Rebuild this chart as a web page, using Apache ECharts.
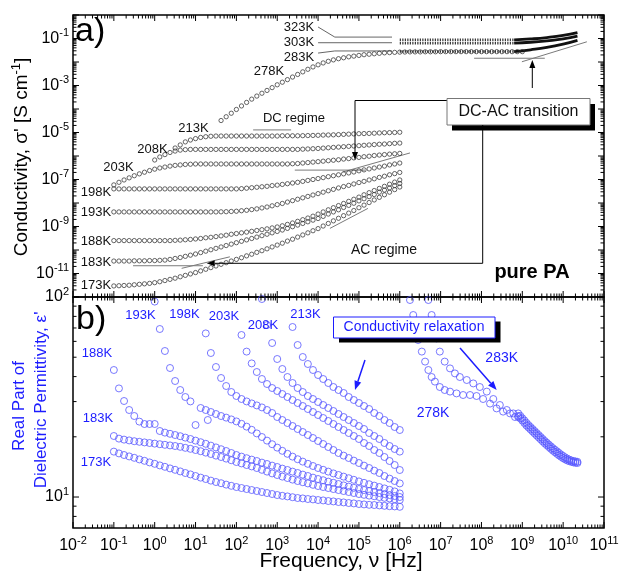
<!DOCTYPE html>
<html>
<head>
<meta charset="utf-8">
<title>pure PA – conductivity and permittivity spectra</title>
<script src="https://cdn.jsdelivr.net/npm/echarts@6.0.0/dist/echarts.min.js"></script>
<style>
  html, body { margin: 0; padding: 0; background: #fff; }
  #chart { width: 619px; height: 576px; }
</style>
</head>
<body>
<div id="chart"></div>
<script>
// All spectra are kept as log10 values: log10(nu / Hz), log10(sigma' / S cm^-1), log10(eps').

// Broadband dielectric sweep, 0.1 Hz ... 1 MHz
const logFreq = [-1, -0.875, -0.75, -0.625, -0.5, -0.375, -0.25, -0.125, 0, 0.125, 0.25, 0.375, 0.5, 0.625, 0.75, 0.875,
  1, 1.125, 1.25, 1.375, 1.5, 1.625, 1.75, 1.875, 2, 2.125, 2.25, 2.375, 2.5, 2.625, 2.75, 2.875,
  3, 3.125, 3.25, 3.375, 3.5, 3.625, 3.75, 3.875, 4, 4.125, 4.25, 4.375, 4.5, 4.625, 4.75, 4.875,
  5, 5.125, 5.25, 5.375, 5.5, 5.625, 5.75, 5.875, 6];

// ---- (a) conductivity, low temperatures ----
const sig213 = [-5.66, -5.53, -5.40, -5.32, -5.26, -5.21, -5.18, -5.16, -5.15,
  -5.15, -5.15, -5.15, -5.15, -5.15, -5.15, -5.15, -5.15, -5.15, -5.15, -5.15, -5.15, -5.14, -5.14, -5.14, -5.14,
  -5.135, -5.13, -5.125, -5.12, -5.11, -5.105, -5.10, -5.09, -5.08, -5.07, -5.06, -5.05, -5.045, -5.04, -5.03, -5.02, -5.01, -5.005, -5.0, -4.99];
const sig208 = [-6.17, -6.04, -5.94, -5.85, -5.79, -5.75, -5.73, -5.72,
  -5.72, -5.72, -5.72, -5.72, -5.72, -5.72, -5.72, -5.72, -5.72, -5.72, -5.72, -5.72, -5.72, -5.72, -5.72, -5.72, -5.72, -5.72, -5.72, -5.72, -5.72,
  -5.71, -5.70, -5.69, -5.68, -5.665, -5.65, -5.635, -5.62, -5.605, -5.59, -5.575, -5.56, -5.545, -5.53, -5.515, -5.50, -5.49, -5.475, -5.46, -5.45];
const sig203 = [-7.23, -7.12, -7.02, -6.93, -6.84, -6.76, -6.69, -6.62, -6.56, -6.51, -6.47, -6.43, -6.40, -6.38, -6.36, -6.35,
  -6.34, -6.34, -6.34, -6.34, -6.34, -6.34, -6.34, -6.34, -6.34, -6.34, -6.34, -6.34, -6.34, -6.34, -6.34, -6.34, -6.34, -6.34, -6.34,
  -6.33, -6.32, -6.30, -6.28, -6.26, -6.24, -6.22, -6.20, -6.18, -6.16, -6.13, -6.11, -6.08, -6.06, -6.03, -6.01, -5.98, -5.96, -5.94, -5.92, -5.905, -5.89];
const sig198 = [-7.40, -7.40, -7.40, -7.40, -7.40, -7.40, -7.40, -7.40, -7.40, -7.40, -7.40, -7.40, -7.40, -7.40, -7.40, -7.40,
  -7.40, -7.40, -7.40, -7.40, -7.40, -7.40, -7.40, -7.40, -7.40,
  -7.39, -7.37, -7.35, -7.33, -7.31, -7.29, -7.26, -7.24, -7.21, -7.18, -7.15, -7.12, -7.08, -7.04, -7.00, -6.96,
  -6.92, -6.88, -6.84, -6.80, -6.76, -6.72, -6.68, -6.63, -6.59, -6.55, -6.51, -6.47, -6.43, -6.38, -6.34, -6.30];
const sig193 = [-8.38, -8.38, -8.38, -8.38, -8.38, -8.38, -8.38, -8.38, -8.38, -8.38, -8.38, -8.38, -8.38, -8.38, -8.38, -8.38,
  -8.38, -8.38, -8.38, -8.38, -8.38,
  -8.375, -8.37, -8.36, -8.35, -8.33, -8.31, -8.28, -8.25, -8.21, -8.17, -8.12, -8.07, -8.02, -7.96, -7.90, -7.84,
  -7.78, -7.72, -7.66, -7.60, -7.54, -7.48, -7.42, -7.36, -7.30, -7.25, -7.19, -7.13, -7.08, -7.02, -6.97, -6.91, -6.86, -6.80, -6.75, -6.70];
const sig188 = [-9.60, -9.60, -9.60, -9.60, -9.60, -9.60, -9.60, -9.60, -9.60, -9.60, -9.60, -9.60,
  -9.59, -9.58, -9.565, -9.55, -9.53, -9.51, -9.48, -9.46, -9.43, -9.40, -9.37, -9.33, -9.30, -9.27, -9.24, -9.205,
  -9.17, -9.135, -9.10, -9.06, -9.02, -8.97, -8.91, -8.85, -8.78, -8.71, -8.64, -8.56, -8.47, -8.38, -8.29, -8.20,
  -8.11, -8.02, -7.93, -7.84, -7.75, -7.65, -7.56, -7.47, -7.38, -7.29, -7.20, -7.11, -7.02];
const sig183 = [-10.47, -10.47, -10.47, -10.47, -10.46, -10.46, -10.46, -10.45, -10.45, -10.44, -10.43, -10.40, -10.36, -10.32, -10.27, -10.22,
  -10.17, -10.11, -10.05, -9.99, -9.93, -9.87, -9.81, -9.75, -9.69, -9.63, -9.57, -9.51, -9.45, -9.39, -9.33, -9.27,
  -9.21, -9.15, -9.08, -9.01, -8.94, -8.87, -8.80, -8.73, -8.66, -8.57, -8.47, -8.38, -8.29, -8.19, -8.10, -8.01,
  -7.91, -7.82, -7.73, -7.64, -7.54, -7.45, -7.36, -7.26, -7.17];
const sig173 = [-11.53, -11.52, -11.51, -11.50, -11.48, -11.46, -11.44, -11.42, -11.39, -11.35, -11.30, -11.25, -11.20, -11.14, -11.08, -11.02,
  -10.96, -10.89, -10.82, -10.75, -10.68, -10.61, -10.54, -10.47, -10.40, -10.33, -10.25, -10.18, -10.10, -10.03, -9.95, -9.87,
  -9.79, -9.71, -9.62, -9.54, -9.45, -9.36, -9.27, -9.18, -9.09, -8.98, -8.87, -8.76, -8.65, -8.54, -8.43, -8.32,
  -8.20, -8.09, -7.98, -7.87, -7.76, -7.65, -7.54, -7.43, -7.32];

// ---- (a) conductivity, high temperatures ----
const logFreq278 = [1.625, 1.75, 1.875, 2, 2.125, 2.25, 2.375, 2.5, 2.625, 2.75, 2.875, 3, 3.125, 3.25, 3.375, 3.5,
  3.625, 3.75, 3.875, 4, 4.125, 4.25, 4.375, 4.5, 4.625, 4.75, 4.875, 5, 5.125, 5.25, 5.375, 5.5,
  5.625, 5.75, 5.875, 6, 6.125, 6.25, 6.375, 6.5, 6.625, 6.75, 6.875, 7, 7.125, 7.25, 7.375, 7.5,
  7.625, 7.75, 7.875, 8, 8.125, 8.25, 8.375, 8.5, 8.625, 8.75, 8.875, 9];
const sig278 = [-4.49, -4.33, -4.18, -4.02, -3.87, -3.72, -3.58, -3.45, -3.33, -3.21, -3.09, -2.97, -2.86, -2.75, -2.64, -2.53,
  -2.42, -2.31, -2.21, -2.12, -2.04, -1.97, -1.91, -1.86, -1.82, -1.78, -1.75, -1.72, -1.69, -1.67, -1.65, -1.63,
  -1.61, -1.60, -1.59, -1.58, -1.575, -1.57, -1.57, -1.57, -1.565, -1.565, -1.565, -1.56, -1.56, -1.56, -1.56, -1.56,
  -1.56, -1.56, -1.56, -1.56, -1.56, -1.56, -1.56, -1.56, -1.56, -1.56, -1.56, -1.56];
// coaxial line range (flat part) and microwave range
const logFreqCoax = [6, 8.8];
const sig323Coax = [-1.06, -1.06];
const sig303Coax = [-1.20, -1.20];
const sig283Coax = [-1.55, -1.55];
const logFreqMw = [8.8, 9.2, 9.6, 10.0, 10.35];
const sig323Mw = [-1.06, -1.02, -0.96, -0.87, -0.75];
const sig303Mw = [-1.20, -1.16, -1.10, -1.02, -0.90];
const sig283Mw = [-1.56, -1.48, -1.38, -1.24, -1.08];

// ---- (b) real part of permittivity ----
const eps213 = [1.85, 1.76, 1.70, 1.665, 1.635, 1.61, 1.59, 1.57, 1.55, 1.535, 1.52, 1.50, 1.485, 1.47, 1.455, 1.44, 1.42, 1.405, 1.385, 1.37, 1.35, 1.335];
const eps208 = [1.99, 1.86, 1.77, 1.69, 1.64, 1.60, 1.57, 1.545, 1.525, 1.505, 1.49, 1.475, 1.46, 1.445, 1.43, 1.415, 1.40, 1.385, 1.37, 1.355, 1.34, 1.32, 1.305, 1.29, 1.27, 1.255, 1.24, 1.227];
const eps203 = [1.81, 1.727, 1.668, 1.625, 1.59, 1.565, 1.545, 1.53, 1.515, 1.50, 1.485, 1.47, 1.455, 1.44, 1.425, 1.41,
  1.395, 1.38, 1.365, 1.35, 1.335, 1.32, 1.305, 1.29, 1.27, 1.255, 1.235, 1.22, 1.20, 1.18, 1.16, 1.135];
const eps198 = [1.818, 1.72, 1.65, 1.595, 1.555, 1.525, 1.505, 1.49, 1.478, 1.468, 1.458, 1.448, 1.435, 1.42, 1.40, 1.385,
  1.37, 1.355, 1.34, 1.325, 1.31, 1.295, 1.28, 1.265, 1.25, 1.235, 1.22, 1.207, 1.195, 1.182, 1.17, 1.157,
  1.145, 1.132, 1.12, 1.105, 1.092, 1.08, 1.068];
const eps193 = [1.977, 1.84, 1.73, 1.645, 1.58, 1.535, 1.50, 1.478, 1.36, 1.445, 1.435, 1.425, 1.415, 1.405, 1.397, 1.388,
  1.378, 1.366, 1.352, 1.336, 1.318, 1.30, 1.282, 1.264, 1.247, 1.231, 1.216, 1.202, 1.189, 1.177, 1.166, 1.155,
  1.145, 1.136, 1.127, 1.118, 1.11, 1.102, 1.094, 1.086, 1.078, 1.071, 1.064, 1.057, 1.05, 1.043, 1.036, 1.028, 1.018];
const eps188 = [1.635, 1.543, 1.48, 1.435, 1.405, 1.377, 1.365, 1.365, 1.365, 1.33, 1.322, 1.316, 1.31, 1.304, 1.297, 1.29,
  1.282, 1.274, 1.266, 1.257, 1.248, 1.239, 1.23, 1.22, 1.21, 1.202, 1.194, 1.187, 1.18, 1.172, 1.165, 1.157,
  1.15, 1.142, 1.135, 1.127, 1.12, 1.112, 1.105, 1.097, 1.09, 1.084, 1.077, 1.071, 1.065, 1.058, 1.052, 1.046,
  1.04, 1.035, 1.03, 1.025, 1.02, 1.015, 1.01, 1.005, 1.0];
const eps183 = [1.305, 1.292, 1.287, 1.283, 1.279, 1.276, 1.273, 1.27, 1.267, 1.264, 1.261, 1.258, 1.255, 1.251, 1.246, 1.241,
  1.235, 1.229, 1.222, 1.215, 1.207, 1.2, 1.192, 1.184, 1.175, 1.168, 1.16, 1.153, 1.145, 1.136, 1.127, 1.118,
  1.11, 1.102, 1.095, 1.087, 1.08, 1.074, 1.068, 1.061, 1.055, 1.05, 1.045, 1.04, 1.035, 1.03, 1.025, 1.02,
  1.015, 1.011, 1.007, 1.004, 1.0, 0.996, 0.993, 0.989, 0.985];
const eps173 = [1.227, 1.218, 1.21, 1.203, 1.196, 1.188, 1.181, 1.173, 1.166, 1.158, 1.151, 1.143, 1.136, 1.128, 1.12, 1.113,
  1.105, 1.097, 1.09, 1.082, 1.075, 1.069, 1.062, 1.056, 1.05, 1.045, 1.04, 1.035, 1.03, 1.025, 1.02, 1.015,
  1.01, 1.006, 1.003, 0.999, 0.995, 0.993, 0.99, 0.988, 0.985, 0.983, 0.98, 0.978, 0.975, 0.973, 0.97, 0.968,
  0.965, 0.963, 0.961, 0.96, 0.958, 0.956, 0.954, 0.953, 0.951];
const logFreq198Extra = [1.3];
const eps198Extra = [1.385];

const logFreq278b = [6.25, 6.33, 6.45, 6.54, 6.62, 6.70, 6.78, 6.86, 6.98, 7.1, 7.23, 7.39, 7.55, 7.72, 7.88, 8.04, 8.21, 8.37, 8.53, 8.70, 8.82];
const eps278 = [1.985, 1.91, 1.785, 1.727, 1.677, 1.635, 1.60, 1.577, 1.55, 1.535, 1.527, 1.518, 1.51, 1.51, 1.505, 1.49, 1.467, 1.443, 1.427, 1.418, 1.40];
const logFreq283b = [6.70, 6.78, 6.90, 6.98, 7.1, 7.23, 7.35, 7.47, 7.64, 7.80, 7.96, 8.13, 8.29, 8.45, 8.62, 8.78, 8.9];
const eps283 = [1.985, 1.91, 1.793, 1.727, 1.677, 1.643, 1.618, 1.60, 1.585, 1.568, 1.55, 1.527, 1.49, 1.46, 1.435, 1.418, 1.40];
const logFreqMwDense = [8.9, 8.95, 9.0, 9.05, 9.1, 9.15, 9.2, 9.25, 9.3, 9.35, 9.4, 9.45, 9.5, 9.55, 9.6,
  9.65, 9.7, 9.75, 9.8, 9.85, 9.9, 9.95, 10.0, 10.05, 10.1, 10.15, 10.2, 10.25, 10.3, 10.35];
const eps278Mw = [1.405, 1.393, 1.382, 1.370, 1.358, 1.348, 1.338, 1.328, 1.318, 1.308, 1.298, 1.288, 1.278, 1.268, 1.259,
  1.250, 1.241, 1.232, 1.224, 1.216, 1.208, 1.201, 1.194, 1.188, 1.183, 1.179, 1.176, 1.173, 1.171, 1.170];
const eps283Mw = [1.418, 1.406, 1.394, 1.383, 1.371, 1.360, 1.350, 1.340, 1.330, 1.320, 1.310, 1.300, 1.290, 1.280, 1.271,
  1.262, 1.253, 1.244, 1.236, 1.228, 1.220, 1.212, 1.205, 1.198, 1.192, 1.187, 1.183, 1.180, 1.178, 1.176];

// guide lines (DC plateau / AC power law) in (log nu, log sigma)
const guideSegments = [
  [[2.41, -4.89], [3.34, -4.89]],
  [[3.43, -6.60], [5.15, -6.60]],
  [[4.61, -6.68], [6.25, -5.87]],
  [[4.29, -9.08], [5.22, -8.23]],
  [[-0.53, -10.67], [1.18, -10.67]],
  [[0.66, -10.78], [1.84, -10.29]],
  [[7.82, -1.84], [9.55, -1.84]],
  [[8.99, -1.99], [10.58, -1.14]]
];
const leaderSegments = [
  [[4.0, -0.51], [4.41, -0.94], [5.81, -0.94]],
  [[4.0, -1.18], [5.81, -1.18]],
  [[4.0, -1.62], [4.41, -1.53], [5.81, -1.53]]
];

// axis tick positions
const freqDecades = [-2, -1, 0, 1, 2, 3, 4, 5, 6, 7, 8, 9, 10, 11];
const sigmaDecades = [-12, -11, -10, -9, -8, -7, -6, -5, -4, -3, -2, -1, 0];
const epsDecades = [1, 2];
const epsMinor = [8, 9, 20, 30, 40, 50, 60, 70, 80, 90];
const minorSteps = [2, 3, 4, 5, 6, 7, 8, 9];

const FONT = '"Liberation Sans", Arial, Helvetica, sans-serif';
const BLUE = '#1c1cff';
const BLUE_MARK = '#5858ff';

function onGrid(start, vals) {
  const k = logFreq.indexOf(start);
  return vals.map((v, i) => [logFreq[k + i], v]);
}
function zip(fs, vs) { return fs.map((f, i) => [f, vs[i]]); }

const openBlack = { color: 'rgba(0,0,0,0)', borderColor: '#2a2a2a', borderWidth: 0.9 };
const openBlue = { color: 'rgba(0,0,0,0)', borderColor: BLUE_MARK, borderWidth: 1 };

function scatter(gi, data, size, style) {
  return { type: 'scatter', xAxisIndex: gi, yAxisIndex: gi, data, symbol: 'circle',
    symbolSize: size, itemStyle: style, silent: true, z: 3, animation: false };
}
function line(gi, data, lineStyle, smooth) {
  return { type: 'line', xAxisIndex: gi, yAxisIndex: gi, data, symbol: 'none', showSymbol: false,
    lineStyle, smooth: !!smooth, silent: true, z: 2, animation: false };
}

// tick marks on all four sides of each panel, placed through the axes
function tickData(yMin, yMajor, yMinorList) {
  const out = [];
  freqDecades.forEach(n => {
    out.push([n, yMin, 0]);
    if (n < 11) minorSteps.forEach(m => out.push([n + Math.log10(m), yMin, 1]));
  });
  yMajor.forEach(v => out.push([-2, v, 2]));
  yMinorList.forEach(v => out.push([-2, v, 3]));
  return out;
}
const sigmaMinor = [];
sigmaDecades.slice(0, -1).forEach(n => minorSteps.forEach(m => sigmaMinor.push(n + Math.log10(m))));
const epsMinorLog = epsMinor.map(v => Math.log10(v));

function renderTick(params, api) {
  const cs = params.coordSys;
  const p = api.coord([api.value(0), api.value(1)]);
  const kind = api.value(2);
  const len = (kind === 0 || kind === 2) ? 6 : 3.5;
  const st = { stroke: '#000', lineWidth: 1 };
  if (kind < 2) {
    return { type: 'group', children: [
      { type: 'line', shape: { x1: p[0], y1: cs.y, x2: p[0], y2: cs.y + len }, style: st },
      { type: 'line', shape: { x1: p[0], y1: cs.y + cs.height, x2: p[0], y2: cs.y + cs.height - len }, style: st }
    ] };
  }
  return { type: 'group', children: [
    { type: 'line', shape: { x1: cs.x, y1: p[1], x2: cs.x + len, y2: p[1] }, style: st },
    { type: 'line', shape: { x1: cs.x + cs.width, y1: p[1], x2: cs.x + cs.width - len, y2: p[1] }, style: st }
  ] };
}

const powRich = {
  b: { fontSize: 16, fontFamily: FONT, color: '#000', lineHeight: 22 },
  s: { fontSize: 11, fontFamily: FONT, color: '#000', lineHeight: 14, verticalAlign: 'top' }
};
const isInt = v => Math.abs(v - Math.round(v)) < 1e-6;
const powLabel = v => '{b|10}{s|' + Math.round(v) + '}';

const grey = { color: '#7a7a7a', width: 1 };
const series = [];

// (a) low temperature conductivity
[[0.5, sig213], [0, sig208], [-1, sig203], [-1, sig198], [-1, sig193], [-1, sig188], [-1, sig183], [-1, sig173]]
  .forEach(([s, v]) => series.push(scatter(0, onGrid(s, v), 4.3, openBlack)));
// (a) high temperature conductivity
series.push(scatter(0, zip(logFreq278, sig278), 4.3, openBlack));
[sig323Coax, sig303Coax, sig283Coax].forEach(v =>
  series.push(line(0, zip(logFreqCoax, v), { color: '#333', width: 2.6, type: [1.2, 1.3] })));
[sig323Mw, sig303Mw, sig283Mw].forEach(v =>
  series.push(line(0, zip(logFreqMw, v), { color: '#111', width: 2.8 }, true)));
guideSegments.forEach(seg => series.push(line(0, seg, grey)));
leaderSegments.forEach(seg => series.push(line(0, seg, { color: '#666', width: 1 })));

// (b) permittivity
[[3.375, eps213], [2.625, eps208], [2.125, eps203], [1.25, eps198], [0, eps193], [-1, eps188], [-1, eps183], [-1, eps173]]
  .forEach(([s, v]) => series.push(scatter(1, onGrid(s, v), 7, openBlue)));
series.push(scatter(1, zip(logFreq198Extra, eps198Extra), 7, openBlue));
series.push(scatter(1, zip(logFreq278b, eps278), 7, openBlue));
series.push(scatter(1, zip(logFreq283b, eps283), 7, openBlue));
series.push(scatter(1, zip(logFreqMwDense, eps278Mw), 7, openBlue));
series.push(scatter(1, zip(logFreqMwDense, eps283Mw), 7, openBlue));

// ticks
series.push({ type: 'custom', xAxisIndex: 0, yAxisIndex: 0, renderItem: renderTick, silent: true, z: 5,
  data: tickData(-12, sigmaDecades, sigmaMinor), animation: false });
series.push({ type: 'custom', xAxisIndex: 1, yAxisIndex: 1, renderItem: renderTick, silent: true, z: 5,
  data: tickData(Math.log10(7), epsDecades, epsMinorLog), animation: false });

// annotation helpers
function txt(x, y, text, size, color, extra) {
  return Object.assign({ type: 'text', x, y, silent: true, z: 100,
    style: Object.assign({ text, fontSize: size, fontFamily: FONT, fill: color || '#111', align: 'center', verticalAlign: 'middle' }, (extra && extra.style) || {}) },
    extra && extra.rotation ? { rotation: extra.rotation } : {});
}
function arrow(pts, color, w, len, half) {
  const [x1, y1] = pts[pts.length - 2], [x2, y2] = pts[pts.length - 1];
  const a = Math.atan2(y2 - y1, x2 - x1);
  const bx = x2 - len * Math.cos(a), by = y2 - len * Math.sin(a);
  const nx = -Math.sin(a) * half, ny = Math.cos(a) * half;
  return [
    { type: 'polyline', silent: true, z: 100, shape: { points: pts.slice(0, -1).concat([[bx, by]]) }, style: { stroke: color, lineWidth: w, fill: null } },
    { type: 'polygon', silent: true, z: 100, shape: { points: [[x2, y2], [bx + nx, by + ny], [bx - nx, by - ny]] }, style: { fill: color } }
  ];
}
function shadowBox(x, y, w, h, dx, dy, stroke) {
  return [
    { type: 'rect', silent: true, z: 99, shape: { x: x + dx, y: y + dy, width: w, height: h }, style: { fill: '#000' } },
    { type: 'rect', silent: true, z: 99, shape: { x, y, width: w, height: h }, style: { fill: '#fff', stroke, lineWidth: 1 } }
  ];
}

const graphics = [].concat(
  [txt(75, 32, 'a)', 34, '#000', { style: { align: 'left' } }),
   txt(76, 320, 'b)', 34, '#000', { style: { align: 'left' } }),
   txt(96, 285, '173K', 13), txt(96, 262, '183K', 13), txt(96, 241, '188K', 13),
   txt(96, 212, '193K', 13), txt(96, 192, '198K', 13), txt(118.5, 167, '203K', 13),
   txt(152.5, 149, '208K', 13), txt(193.5, 128, '213K', 13), txt(269, 71, '278K', 13),
   txt(299, 57, '283K', 13), txt(299, 42.5, '303K', 13), txt(299, 27, '323K', 13),
   txt(294, 118, 'DC regime', 13), txt(384, 250, 'AC regime', 14),
   txt(532, 272, 'pure PA', 20, '#000', { style: { fontWeight: 'bold' } })],
  shadowBox(447, 98.5, 143, 26.5, 5, 5.5, '#777'),
  [txt(518.5, 112, 'DC-AC transition', 16)],
  arrow([[532.3, 88], [532.3, 60]], '#000', 1, 8, 3),
  arrow([[446.7, 100.5], [355, 100.5], [355, 160]], '#000', 1, 8, 3),
  arrow([[482.7, 125], [482.7, 263.3], [206.7, 263.3]], '#000', 1, 8, 3),
  [txt(140.5, 315, '193K', 13, BLUE), txt(184.5, 314, '198K', 13, BLUE), txt(224, 316, '203K', 13, BLUE),
   txt(263, 325, '208K', 13, BLUE), txt(305.5, 314, '213K', 13, BLUE), txt(97, 353, '188K', 13, BLUE),
   txt(98, 418, '183K', 13, BLUE), txt(96, 462, '173K', 13, BLUE),
   txt(501.7, 358, '283K', 14, BLUE), txt(433, 413, '278K', 14, BLUE)],
  shadowBox(333.5, 317, 161.5, 21, 5.5, 4.5, BLUE),
  [txt(414, 327.5, 'Conductivity relaxation', 14, BLUE)],
  arrow([[365, 360], [355, 390]], BLUE, 1.5, 9, 3.5),
  arrow([[460, 348], [496.7, 390]], BLUE, 1.5, 9, 3.5),
  [txt(341, 561, 'Frequency, \u03bd [Hz]', 21, '#000'),
   txt(22, 157, 'Conductivity, \u03c3\' [S cm{s|-1}]', 19, '#000', { rotation: Math.PI / 2,
     style: { lineHeight: 24, rich: { s: { fontSize: 13, fontFamily: FONT, fill: '#000', lineHeight: 14, verticalAlign: 'top' } } } }),
   txt(19, 406, 'Real Part of', 17, BLUE, { rotation: Math.PI / 2 }),
   txt(41, 400, 'Dielectric Permittivity, \u03b5\'', 17, BLUE, { rotation: Math.PI / 2 })]
);

const xCommon = { type: 'value', min: -2, max: 11, interval: 1, splitLine: { show: false },
  axisLine: { show: false }, axisTick: { show: false } };

const option = {
  animation: false,
  backgroundColor: '#fff',
  grid: [
    { left: 73, top: 15, width: 531, height: 282, show: true, borderColor: '#000', borderWidth: 1.5, backgroundColor: 'transparent', outerBoundsMode: 'none' },
    { left: 73, top: 297, width: 531, height: 231, show: true, borderColor: '#000', borderWidth: 1.5, backgroundColor: 'transparent', outerBoundsMode: 'none' }
  ],
  xAxis: [
    Object.assign({ gridIndex: 0, axisLabel: { show: false } }, xCommon),
    Object.assign({ gridIndex: 1, axisLabel: { show: true, margin: 7, formatter: powLabel, rich: powRich } }, xCommon)
  ],
  yAxis: [
    { gridIndex: 0, type: 'value', min: -12, max: 0, interval: 1, splitLine: { show: false },
      axisLine: { show: false }, axisTick: { show: false },
      axisLabel: { margin: 4, formatter: v => (isInt(v) && Math.round(v) % 2 !== 0) ? powLabel(v) : '', rich: powRich } },
    { gridIndex: 1, type: 'value', min: Math.log10(7), max: 2, splitNumber: 1, splitLine: { show: false },
      axisLine: { show: false }, axisTick: { show: false },
      axisLabel: { margin: 4, showMinLabel: true, showMaxLabel: true, formatter: v => isInt(v) ? powLabel(v) : '', rich: powRich } }
  ],
  series,
  graphic: { elements: graphics }
};

const chart = echarts.init(document.getElementById('chart'), null, { renderer: 'canvas' });
chart.setOption(option);
</script>
</body>
</html>
